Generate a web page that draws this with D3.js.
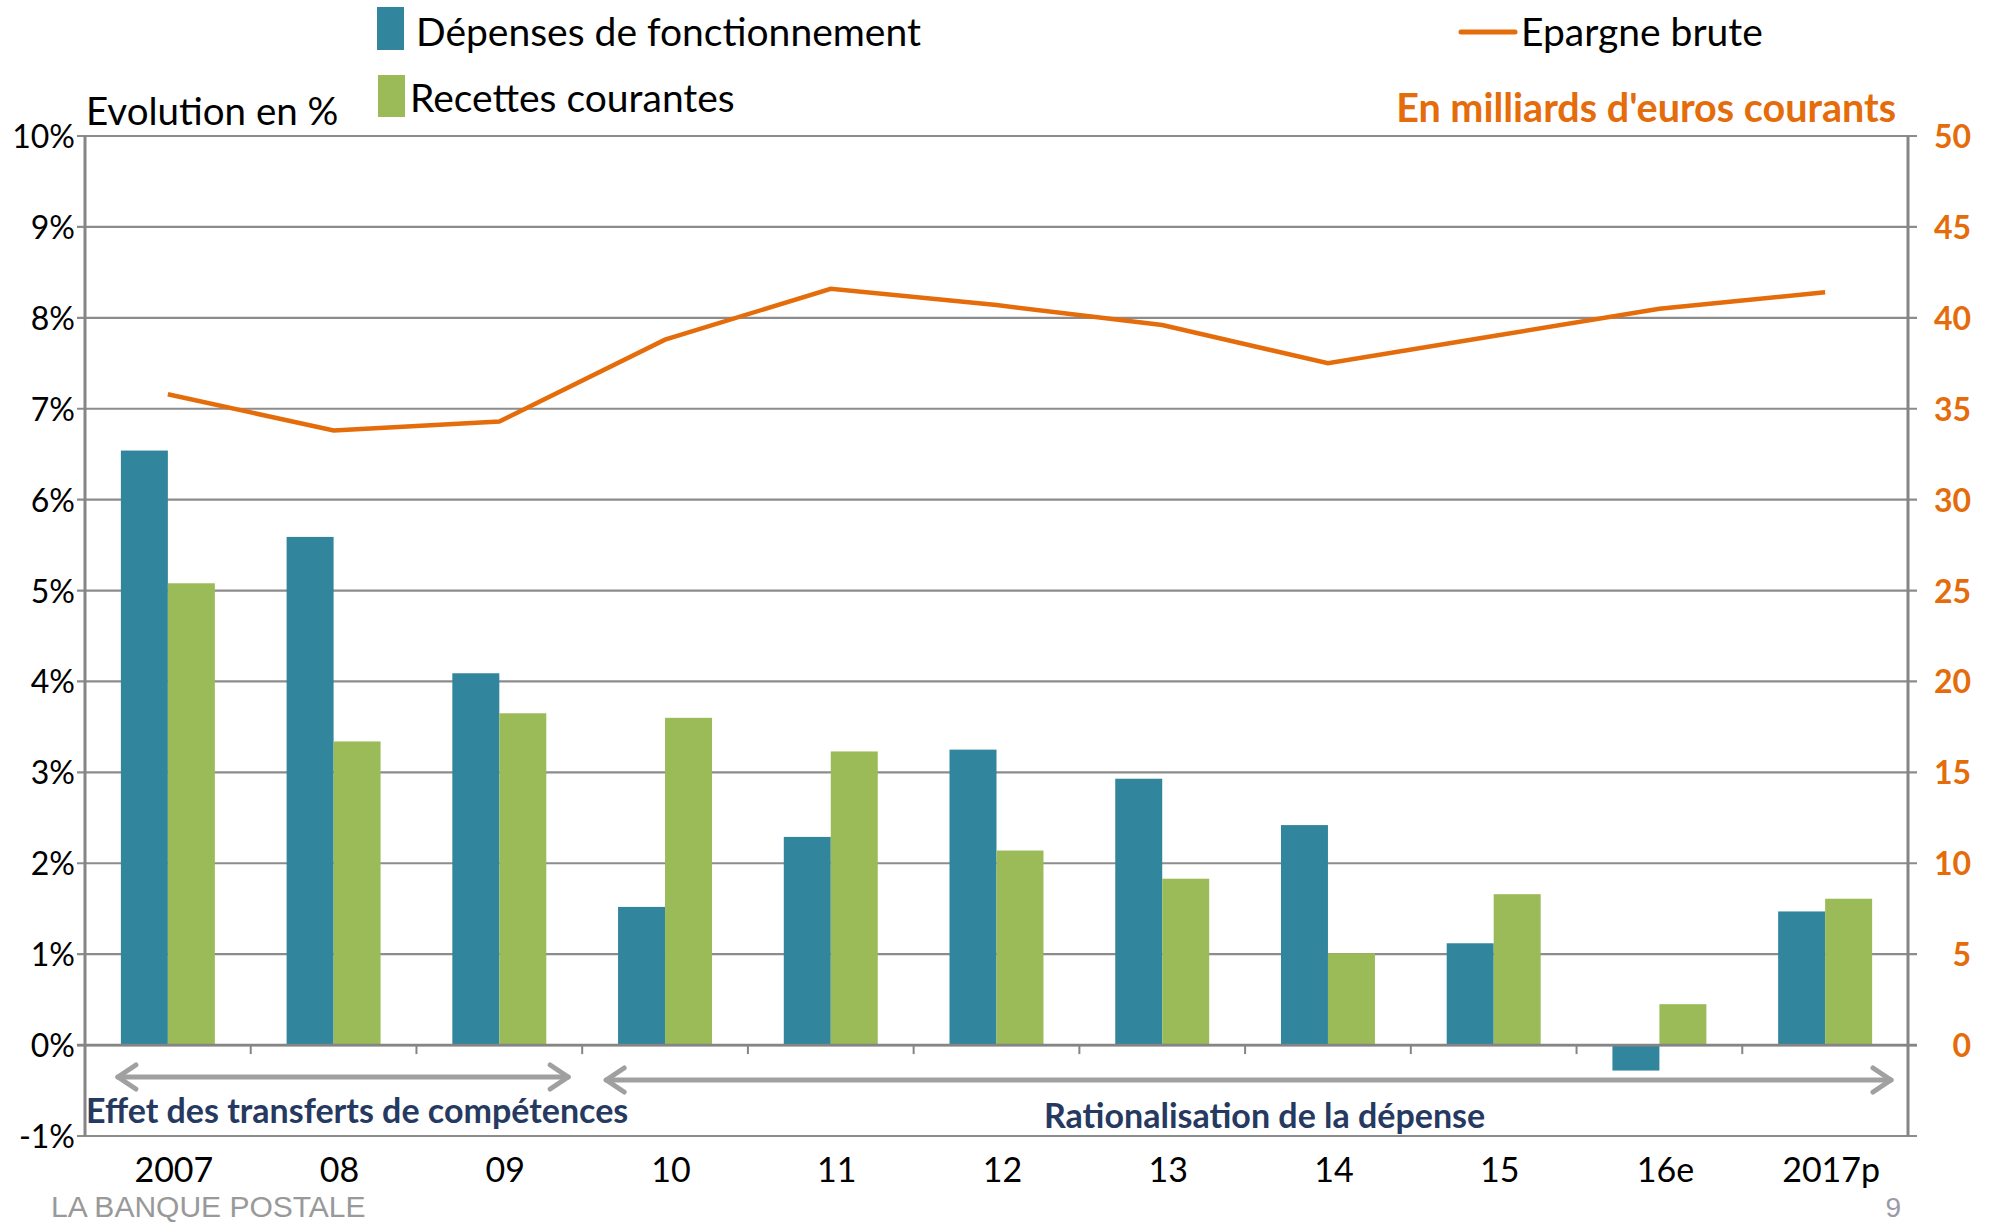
<!DOCTYPE html>
<html>
<head>
<meta charset="utf-8">
<script src="https://cdn.jsdelivr.net/npm/d3@7"></script>
<style>
  body { margin: 0; background: #fff; }
  svg { display: block; font-family: Lato, 'Open Sans', sans-serif; }
</style>
</head>
<body>
<div class="container"></div>
<script>
const years = ['2007', '08', '09', '10', '11', '12', '13', '14', '15', '16e', '2017p'];
const depenses = [6.54, 5.59, 4.09, 1.52, 2.29, 3.25, 2.93, 2.42, 1.12, -0.28, 1.47];
const recettes = [5.08, 3.34, 3.65, 3.60, 3.23, 2.14, 1.83, 1.01, 1.66, 0.45, 1.61];
const epargne = [35.8, 33.8, 34.3, 38.8, 41.6, 40.7, 39.6, 37.5, 39.0, 40.5, 41.4];
const pctTicks = [-1, 0, 1, 2, 3, 4, 5, 6, 7, 8, 9, 10];
const mdTicks = [0, 5, 10, 15, 20, 25, 30, 35, 40, 45, 50];

window.onload = () => {
  const width = 1991;
  const height = 1226;
  const left = 85;
  const right = 1908;
  const top = 136;
  const bottom = 1136;
  const teal = '#31859C';
  const green = '#9BBB59';
  const orange = '#E46C0A';
  const grid = '#8C8C8C';
  const navy = '#263A61';

  const svg = d3.select('.container')
    .append('svg')
    .attr('width', width)
    .attr('height', height);

  const x = d3.scaleBand()
    .domain(years)
    .range([left, right])
    .paddingInner(0.433)
    .paddingOuter(0.2165);

  const x1 = d3.scaleBand()
    .domain(['dep', 'rec'])
    .range([0, x.bandwidth()]);

  const y = d3.scaleLinear().domain([-1, 10]).range([bottom, top]);
  const y2 = d3.scaleLinear().domain([0, 50]).range([y(0), y(10)]);
  const cx = d => x(d) + x.bandwidth() / 2;

  // gridlines
  svg.append('g')
    .selectAll('line')
    .data(pctTicks)
    .enter()
    .append('line')
    .attr('x1', left - 8)
    .attr('x2', right + 9)
    .attr('y1', d => y(d))
    .attr('y2', d => y(d))
    .attr('stroke', grid)
    .attr('stroke-width', 2.2);

  // left tick labels
  svg.append('g')
    .selectAll('text')
    .data(pctTicks)
    .enter()
    .append('text')
    .attr('x', left - 10)
    .attr('y', d => y(d) + 12)
    .attr('text-anchor', 'end')
    .attr('font-size', 32)
    .attr('fill', '#000')
    .text(d => d + '%');

  // right tick labels
  svg.append('g')
    .selectAll('text')
    .data(mdTicks)
    .enter()
    .append('text')
    .attr('x', 1971)
    .attr('y', d => y2(d) + 12)
    .attr('text-anchor', 'end')
    .attr('font-size', 32)
    .attr('font-weight', 'bold')
    .attr('fill', orange)
    .text(d => d);

  // bars
  const groups = svg.append('g')
    .selectAll('g')
    .data(years)
    .enter()
    .append('g')
    .attr('transform', d => `translate(${x(d)},0)`);

  groups.append('rect')
    .attr('x', x1('dep'))
    .attr('width', x1.bandwidth())
    .attr('y', (d, i) => y(Math.max(0, depenses[i])))
    .attr('height', (d, i) => Math.abs(y(depenses[i]) - y(0)))
    .attr('fill', teal);

  groups.append('rect')
    .attr('x', x1('rec'))
    .attr('width', x1.bandwidth())
    .attr('y', (d, i) => y(Math.max(0, recettes[i])))
    .attr('height', (d, i) => Math.abs(y(recettes[i]) - y(0)))
    .attr('fill', green);

  // zero axis with category ticks
  const step = x.step();
  const boundaries = d3.range(1, years.length).map(i => left + i * step);
  svg.append('line')
    .attr('x1', left - 8).attr('x2', right + 9)
    .attr('y1', y(0)).attr('y2', y(0))
    .attr('stroke', '#858585').attr('stroke-width', 2.6);
  svg.append('g')
    .selectAll('line')
    .data(boundaries)
    .enter()
    .append('line')
    .attr('x1', d => d).attr('x2', d => d)
    .attr('y1', y(0)).attr('y2', y(0) + 9)
    .attr('stroke', '#858585').attr('stroke-width', 2);

  // vertical axes
  [left, right].forEach(ax => {
    svg.append('line')
      .attr('x1', ax).attr('x2', ax)
      .attr('y1', top).attr('y2', bottom)
      .attr('stroke', '#858585').attr('stroke-width', 3);
  });

  // epargne brute line
  const line = d3.line()
    .x((d, i) => cx(years[i]))
    .y(d => y2(d));
  svg.append('path')
    .datum(epargne)
    .attr('d', line)
    .attr('fill', 'none')
    .attr('stroke', orange)
    .attr('stroke-width', 4.5);

  // category labels
  svg.append('g')
    .selectAll('text')
    .data(years)
    .enter()
    .append('text')
    .attr('x', d => cx(d) + 6)
    .attr('y', 1182)
    .attr('text-anchor', 'middle')
    .attr('font-size', 34)
    .attr('fill', '#000')
    .text(d => d);

  // annotation arrows
  const arrowY1 = 1077;
  const arrowY2 = 1080;
  const split = boundaries[2];
  function arrow(x0, x1a, yy) {
    const g = svg.append('g')
      .attr('stroke', '#A0A0A0')
      .attr('stroke-width', 5)
      .attr('fill', 'none')
      .attr('stroke-linecap', 'round')
      .attr('stroke-linejoin', 'round');
    g.append('line').attr('x1', x0).attr('x2', x1a).attr('y1', yy).attr('y2', yy);
    g.append('path').attr('d', `M${x0 + 18},${yy - 12}L${x0},${yy}L${x0 + 18},${yy + 12}`);
    g.append('path').attr('d', `M${x1a - 18},${yy - 12}L${x1a},${yy}L${x1a - 18},${yy + 12}`);
  }
  arrow(x(years[0]) - 3, split - 14, arrowY1);
  arrow(split + 24, right - 17, arrowY2);

  svg.append('text')
    .attr('x', left + 1)
    .attr('y', 1123)
    .attr('font-size', 34)
    .attr('font-weight', 'bold')
    .attr('fill', navy)
    .text('Effet des transferts de compétences');

  svg.append('text')
    .attr('x', 1044)
    .attr('y', 1128)
    .attr('font-size', 34)
    .attr('font-weight', 'bold')
    .attr('fill', navy)
    .text('Rationalisation de la dépense');

  // titles
  svg.append('text')
    .attr('x', 86)
    .attr('y', 125)
    .attr('font-size', 38.5)
    .attr('fill', '#000')
    .text('Evolution en %');

  svg.append('text')
    .attr('x', 1896)
    .attr('y', 122)
    .attr('text-anchor', 'end')
    .attr('font-size', 39.5)
    .attr('font-weight', 'bold')
    .attr('fill', orange)
    .text("En milliards d'euros courants");

  // legend
  svg.append('rect').attr('x', 377).attr('y', 7).attr('width', 27).attr('height', 43).attr('fill', teal);
  svg.append('text').attr('x', 416).attr('y', 46).attr('font-size', 39).text('Dépenses de fonctionnement');
  svg.append('rect').attr('x', 378).attr('y', 75).attr('width', 27).attr('height', 42).attr('fill', green);
  svg.append('text').attr('x', 410).attr('y', 112).attr('font-size', 39).text('Recettes courantes');
  svg.append('line').attr('x1', 1461).attr('x2', 1515).attr('y1', 32).attr('y2', 32)
    .attr('stroke', orange).attr('stroke-width', 5).attr('stroke-linecap', 'round');
  svg.append('text').attr('x', 1521).attr('y', 46).attr('font-size', 39).text('Epargne brute');

  // footer
  svg.append('text')
    .attr('x', 51)
    .attr('y', 1217)
    .attr('font-family', "'Liberation Sans Narrow', 'Liberation Sans', sans-serif")
    .attr('font-size', 30)
    .attr('fill', '#999')
    .text('LA BANQUE POSTALE');

  svg.append('text')
    .attr('x', 1901)
    .attr('y', 1217)
    .attr('text-anchor', 'end')
    .attr('font-family', "'Liberation Sans', sans-serif")
    .attr('font-size', 28)
    .attr('fill', '#9a9aa8')
    .text('9');
};
</script>
</body>
</html>
